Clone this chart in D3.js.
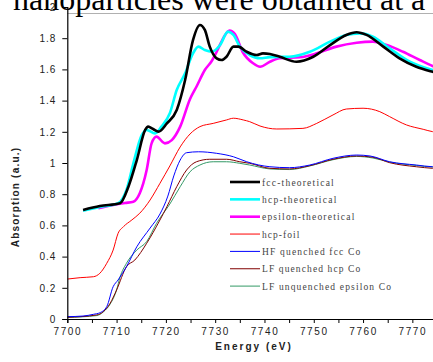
<!DOCTYPE html>
<html>
<head>
<meta charset="utf-8">
<script src="https://cdn.jsdelivr.net/npm/d3@7"></script>
<style>
  html, body { margin: 0; padding: 0; background: #fff; }
  svg { display: block; }
  .tick text { font-family: "Liberation Sans", Arial, sans-serif; }
</style>
</head>
<body>
<svg id="chart" width="433" height="362"></svg>
<script>
// Co K-edge XANES spectra: [energy (eV), absorption (a.u.)]
const fccTheoretical = [
  [7703.2,0.699],[7706.6,0.724],[7710.7,0.742],[7712.4,0.848],[7714.1,1.019],[7715.8,1.212],
  [7716.4,1.233],[7717.4,1.218],[7718.5,1.201],[7720.2,1.254],[7722.2,1.340],[7723.9,1.532],
  [7725.5,1.788],[7726.9,1.885],[7727.9,1.853],[7728.9,1.746],[7730.3,1.671],[7731.3,1.660],
  [7732.3,1.681],[7733.7,1.746],[7734.7,1.746],[7736.4,1.713],[7738.4,1.692],[7739.7,1.703],
  [7741.1,1.699],[7743.1,1.681],[7746.5,1.649],[7749.9,1.681],[7753.3,1.756],[7756.6,1.821],
  [7758.7,1.838],[7760.7,1.821],[7764.1,1.746],[7767.4,1.671],[7770.8,1.617],[7774.1,1.585],[7776,1.57]
];
const hcpTheoretical = [
  [7703.2,0.694],[7706.6,0.718],[7710.3,0.742],[7712.0,0.827],[7713.4,0.998],[7715.1,1.179],
  [7716.1,1.212],[7717.8,1.190],[7719.1,1.233],[7720.8,1.319],[7722.2,1.468],[7723.9,1.575],
  [7725.5,1.703],[7726.6,1.746],[7727.9,1.724],[7729.3,1.713],[7731.0,1.756],[7732.6,1.842],
  [7733.7,1.821],[7735.0,1.746],[7737.0,1.692],[7739.1,1.671],[7741.1,1.679],[7745.1,1.681],
  [7749.2,1.713],[7753.3,1.778],[7756.6,1.821],[7759.3,1.831],[7762.0,1.810],[7765.4,1.735],
  [7769.5,1.649],[7774.1,1.596],[7776,1.58]
];
const epsilonTheoretical = [
  [7706.3,0.710],[7709.3,0.731],[7711.7,0.744],[7713.4,0.752],[7714.7,0.806],[7716.1,0.955],
  [7717.1,1.126],[7718.1,1.169],[7719.8,1.126],[7721.2,1.147],[7722.9,1.233],[7724.9,1.410],
  [7726.3,1.495],[7727.9,1.596],[7729.3,1.654],[7730.5,1.726],[7731.7,1.804],[7732.9,1.849],
  [7734.0,1.826],[7735.6,1.710],[7737.7,1.639],[7739.1,1.617],[7741.1,1.649],[7743.1,1.671],
  [7747.2,1.678],[7750.6,1.703],[7754.6,1.746],[7758.7,1.771],[7762.0,1.778],[7764.8,1.756],
  [7768.1,1.713],[7771.5,1.660],[7774.1,1.622],[7776,1.60]
];
const hcpFoil = [
  [7700.0,0.256],[7702.6,0.265],[7705.3,0.271],[7706.6,0.293],[7708.0,0.357],[7709.3,0.442],
  [7710.3,0.549],[7711.4,0.592],[7713.1,0.635],[7714.7,0.678],[7716.8,0.763],[7718.8,0.870],
  [7720.8,0.981],[7722.9,1.103],[7724.9,1.186],[7726.9,1.233],[7729.6,1.254],[7732.3,1.276],
  [7733.7,1.287],[7735.7,1.276],[7737.0,1.265],[7739.1,1.237],[7742.5,1.218],[7747.8,1.222],
  [7750.6,1.254],[7753.9,1.308],[7756.6,1.346],[7760.0,1.351],[7763.4,1.329],[7765.4,1.297],
  [7768.8,1.244],[7772.2,1.216],[7774.1,1.201],[7776,1.195]
];
const hfQuenchedFcc = [
  [7700.0,0.015],[7703.2,0.019],[7705.3,0.030],[7706.6,0.040],[7708.0,0.079],[7709.3,0.207],
  [7710.3,0.250],[7712.0,0.335],[7714.1,0.463],[7716.8,0.583],[7718.8,0.673],[7720.4,0.788],
  [7721.6,0.917],[7722.9,1.019],[7724.2,1.066],[7726.6,1.072],[7730.3,1.062],[7733.7,1.040],
  [7736.4,1.008],[7741.1,0.976],[7745.1,0.970],[7749.2,0.987],[7753.9,1.030],[7758.7,1.051],
  [7761.4,1.045],[7765.4,1.008],[7770.8,0.987],[7774.1,0.976],[7776,0.975]
];
const lfQuenchedHcp = [
  [7700.0,0.011],[7706.0,0.026],[7707.3,0.047],[7708.7,0.101],[7710.0,0.186],[7712.0,0.335],
  [7713.7,0.378],[7716.1,0.485],[7718.8,0.635],[7720.2,0.720],[7722.2,0.848],[7724.2,0.955],
  [7726.2,1.008],[7728.9,1.024],[7732.3,1.024],[7735.0,1.008],[7737.0,0.998],[7741.1,0.966],
  [7745.1,0.962],[7749.2,0.983],[7753.9,1.024],[7758.7,1.045],[7762.0,1.037],[7765.4,1.002],
  [7770.8,0.976],[7774.1,0.966],[7776,0.963]
];
const lfUnquenchedEpsilon = [
  [7700.0,0.010],[7706.0,0.022],[7707.3,0.045],[7708.7,0.096],[7710.0,0.186],[7710.7,0.269],
  [7712.0,0.357],[7714.1,0.442],[7716.1,0.496],[7718.1,0.613],[7720.8,0.737],[7722.9,0.848],
  [7724.9,0.944],[7726.9,0.987],[7729.6,1.008],[7732.3,1.008],[7735.0,0.998],[7737.0,0.987],
  [7741.1,0.962],[7745.1,0.958],[7749.2,0.981],[7753.9,1.021],[7758.7,1.042],[7762.0,1.032],
  [7765.4,1.006],[7770.8,0.984],[7774.1,0.974],[7776,0.972]
];

const seriesNames = [
  "fcc-theoretical", "hcp-theoretical", "epsilon-theoretical", "hcp-foil",
  "HF quenched fcc Co", "LF quenched hcp Co", "LF unquenched epsilon Co"
];
const seriesData = [
  fccTheoretical, hcpTheoretical, epsilonTheoretical, hcpFoil,
  hfQuenchedFcc, lfQuenchedHcp, lfUnquenchedEpsilon
];
const seriesColors = ["#000000", "#00ffff", "#ff00ff", "#ff0000", "#0000ff", "#800000", "#339966"];
const seriesWidths = [2.6, 2.6, 2.6, 1, 1, 1, 1];

const xTicks = d3.range(7700, 7776, 5);
const yTicks = d3.range(0, 2.01, 0.2);

const svg = d3.select("#chart");
const plotLeft = 67.3, plotRight = 437, plotTop = 7, plotBottom = 319;

const x = d3.scaleLinear().domain([7700, 7775]).range([plotLeft, plotRight]);
const y = d3.scaleLinear().domain([0, 2]).range([plotBottom, plotTop]);

svg.append("defs").append("clipPath").attr("id", "plot")
  .append("rect").attr("x", plotLeft).attr("y", 0)
  .attr("width", plotRight - plotLeft).attr("height", plotBottom);

// page rule line running behind the chart top
svg.append("line").attr("x1", plotLeft).attr("x2", 433).attr("y1", 13.5).attr("y2", 13.5)
  .attr("stroke", "#b0b0b0").attr("stroke-width", 1);

// spectra (drawn bottom-most series first so the theory curves sit on top)
const line = d3.line().x(d => x(d[0])).y(d => y(d[1])).curve(d3.curveMonotoneX);
const g = svg.append("g").attr("clip-path", "url(#plot)");
[6, 5, 4, 3, 2, 1, 0].forEach(i => {
  g.append("path").datum(seriesData[i])
    .attr("d", line).attr("fill", "none")
    .attr("stroke", seriesColors[i]).attr("stroke-width", seriesWidths[i])
    .attr("stroke-linejoin", "round");
});

// y axis
const yAxis = svg.append("g").attr("transform", `translate(${plotLeft},0)`)
  .call(d3.axisLeft(y).tickValues(yTicks).tickSize(5).tickPadding(6)
    .tickFormat(d => (Math.abs(d) < 1e-9 ? "0" : String(+d.toFixed(1)))));
yAxis.select(".domain").attr("stroke", "#000").attr("stroke-width", 1.2);
yAxis.selectAll(".tick line").attr("stroke", "#000");
yAxis.selectAll(".tick text").attr("font-size", 10).attr("fill", "#222")
  .attr("letter-spacing", "1px");

// x axis
const xAxis = svg.append("g").attr("transform", `translate(0,${plotBottom})`)
  .call(d3.axisBottom(x).tickValues(xTicks).tickSize(4).tickPadding(5)
    .tickFormat(d => (d % 10 === 0 ? d : "")));
xAxis.select(".domain").attr("stroke", "#000").attr("stroke-width", 1.2);
xAxis.selectAll(".tick line").attr("stroke", "#000");
xAxis.selectAll(".tick text").attr("font-size", 10).attr("fill", "#222")
  .attr("letter-spacing", "1.6px");

// axis titles
svg.append("text").attr("x", 254).attr("y", 350).attr("text-anchor", "middle")
  .attr("font-family", "Liberation Sans, Arial, sans-serif").attr("font-weight", "bold")
  .attr("font-size", 10).attr("letter-spacing", "2px").attr("fill", "#222")
  .text("Energy (eV)");
svg.append("text").attr("transform", "translate(19,197) rotate(-90)").attr("text-anchor", "middle")
  .attr("font-family", "Liberation Sans, Arial, sans-serif").attr("font-weight", "bold")
  .attr("font-size", 10).attr("letter-spacing", "1.2px").attr("fill", "#222")
  .text("Absorption (a.u.)");

// legend
const legendWidths = [71.7, 74.3, 92.3, 37.3, 98.3, 98.3, 129];
const legend = svg.append("g");
seriesNames.forEach((name, i) => {
  const ly = 182 + i * 17.35;
  legend.append("line").attr("x1", 230).attr("x2", 260).attr("y1", ly).attr("y2", ly)
    .attr("stroke", seriesColors[i]).attr("stroke-width", seriesWidths[i]);
  legend.append("text").attr("x", 262).attr("y", ly + 3.5)
    .attr("font-family", "Liberation Serif, Times New Roman, serif").attr("font-size", 9.5)
    .attr("fill", "#444").attr("textLength", legendWidths[i]).attr("lengthAdjust", "spacing")
    .text(name);
});

// running text of the page above the chart
svg.append("text").attr("x", 13).attr("y", 10)
  .attr("font-family", "Liberation Serif, Times New Roman, serif").attr("font-size", 32)
  .attr("fill", "#000").text("nanoparticles were obtained at a");
</script>
</body>
</html>
